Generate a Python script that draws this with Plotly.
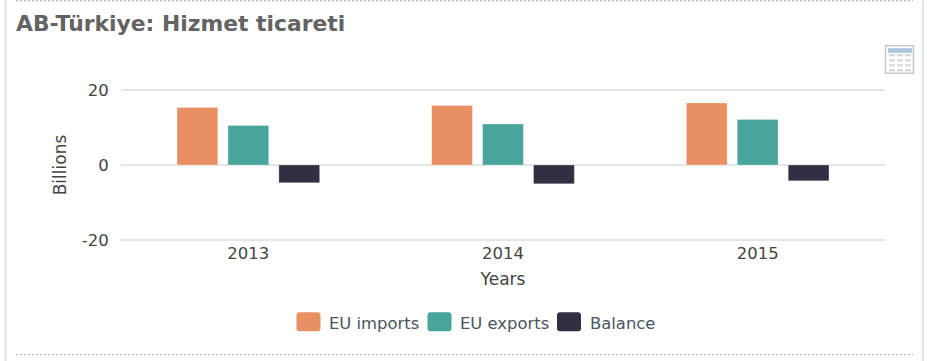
import plotly.graph_objects as go

W, H = 927, 361
UNIT = 3.76
L, R, T, B = 121, 885, 89.5 - UNIT, 240 + UNIT

years = ["2013", "2014", "2015"]
eu_imports = [15.3, 15.8, 16.5]
eu_exports = [10.5, 10.9, 12.1]
balance = [-4.7, -5.0, -4.2]
y_ticks = [-20, 0, 20]
y_tick_labels = ["-20", "0", "20"]
colors = {"EU imports": "#E89064", "EU exports": "#48A59B", "Balance": "#312F42"}
FONT = "DejaVu Sans"
TXT = "#444444"


def px(x):
    return (x - L) / (R - L)


def py(y):
    return (B - y) / (B - T)


def rect(x0, y0, x1, y1, fill=None, line=None, lw=1):
    return dict(type="rect", xref="paper", yref="paper", x0=px(x0), x1=px(x1), y0=py(y0), y1=py(y1),
                fillcolor=fill or "rgba(0,0,0,0)",
                line=dict(color=line or "rgba(0,0,0,0)", width=lw if line else 0))


def hline(x0, x1, y, color, lw=1, dash="solid"):
    return dict(type="line", xref="paper", yref="paper", x0=px(x0), x1=px(x1), y0=py(y), y1=py(y),
                line=dict(color=color, width=lw, dash=dash))


def vline(x, y0, y1, color, lw=1):
    return dict(type="line", xref="paper", yref="paper", x0=px(x), x1=px(x), y0=py(y0), y1=py(y1),
                line=dict(color=color, width=lw))


def rrect(x0, y0, x1, y1, fill, r=3):
    X0, X1, Y0, Y1 = px(x0), px(x1), py(y0), py(y1)
    rx, ry = r / (R - L), r / (B - T)
    path = (f"M{X0 + rx},{Y0} L{X1 - rx},{Y0} Q{X1},{Y0} {X1},{Y0 - ry} L{X1},{Y1 + ry} "
            f"Q{X1},{Y1} {X1 - rx},{Y1} L{X0 + rx},{Y1} Q{X0},{Y1} {X0},{Y1 + ry} "
            f"L{X0},{Y0 - ry} Q{X0},{Y0} {X0 + rx},{Y0} Z")
    return dict(type="path", xref="paper", yref="paper", path=path, fillcolor=fill, line=dict(width=0))


fig = go.Figure()
for name, vals in [("EU imports", eu_imports), ("EU exports", eu_exports), ("Balance", balance)]:
    fig.add_bar(x=years, y=vals, name=name,
                marker=dict(color=colors[name], line=dict(width=1, color="rgba(255,255,255,0.25)")),
                showlegend=False, hovertemplate="%{x}: %{y}<extra>" + name + "</extra>")

shapes = [
    hline(16, 913, 0.5, "#a8a8a8", 1, "2px,2px"),
    hline(16, 913, 354.5, "#a8a8a8", 1, "2px,2px"),
    vline(5.5, 0, H, "#dde6f0", 2),
    vline(923, 0, H, "#dde6f0", 2),
]
# table icon
shapes.append(rect(885.5, 45.5, 913.5, 73, fill="#ffffff", line="#c8c8c8", lw=1.5))
shapes.append(rect(888, 48, 912, 52.5, fill="#a9c8de"))
for ry in (54, 59, 64, 69):
    for cx in (889, 897, 905):
        shapes.append(rect(cx, ry, cx + 6, ry + 2, fill="#d4d4d4"))

annotations = [
    dict(text="<b>AB-Türkiye: Hizmet ticareti</b>", xref="paper", yref="paper",
         x=px(15), y=py(23), xanchor="left", yanchor="middle", showarrow=False,
         font=dict(family=FONT, size=21.85, color="#636363"), xshift=-1),
]
legend_items = [("EU imports", 296.5, 328), ("EU exports", 427.5, 459), ("Balance", 557, 589)]
for name, sx, tx in legend_items:
    shapes.append(rrect(sx, 312, sx + 24, 331, colors[name]))
    annotations.append(dict(text=name, xref="paper", yref="paper", x=px(tx), y=py(323), xanchor="left",
                            yanchor="middle", showarrow=False,
                            font=dict(family=FONT, size=16.4, color="#4a5560"), xshift=-1))

fig.update_layout(
    width=W, height=H, autosize=False, paper_bgcolor="white", plot_bgcolor="white",
    margin=dict(l=L, r=W - R, t=T, b=H - B, pad=0),
    barmode="group", bargap=0.4, bargroupgap=0.2, showlegend=False,
    font=dict(family=FONT, size=16.5, color=TXT),
    shapes=shapes, annotations=annotations,
    xaxis=dict(title=dict(text="Years", font=dict(size=17, color=TXT), standoff=11), showgrid=False,
               zeroline=False, showline=False, ticks="", ticklen=0, ticklabelstandoff=-3,
               tickfont=dict(size=16.5, color=TXT)),
    yaxis=dict(title=dict(text="Billions", font=dict(size=17, color=TXT), standoff=10), range=[-21, 21],
               tickvals=y_ticks, ticktext=y_tick_labels, gridcolor="#e6e6e6", gridwidth=2, zeroline=False,
               showline=False, ticks="outside", ticklen=8, tickcolor="rgba(0,0,0,0)",
               tickfont=dict(size=16.5, color=TXT)),
)
fig.write_html("out.html", config=dict(displayModeBar=False),
               post_script="document.body.style.margin='0';document.body.style.overflow='hidden';")
